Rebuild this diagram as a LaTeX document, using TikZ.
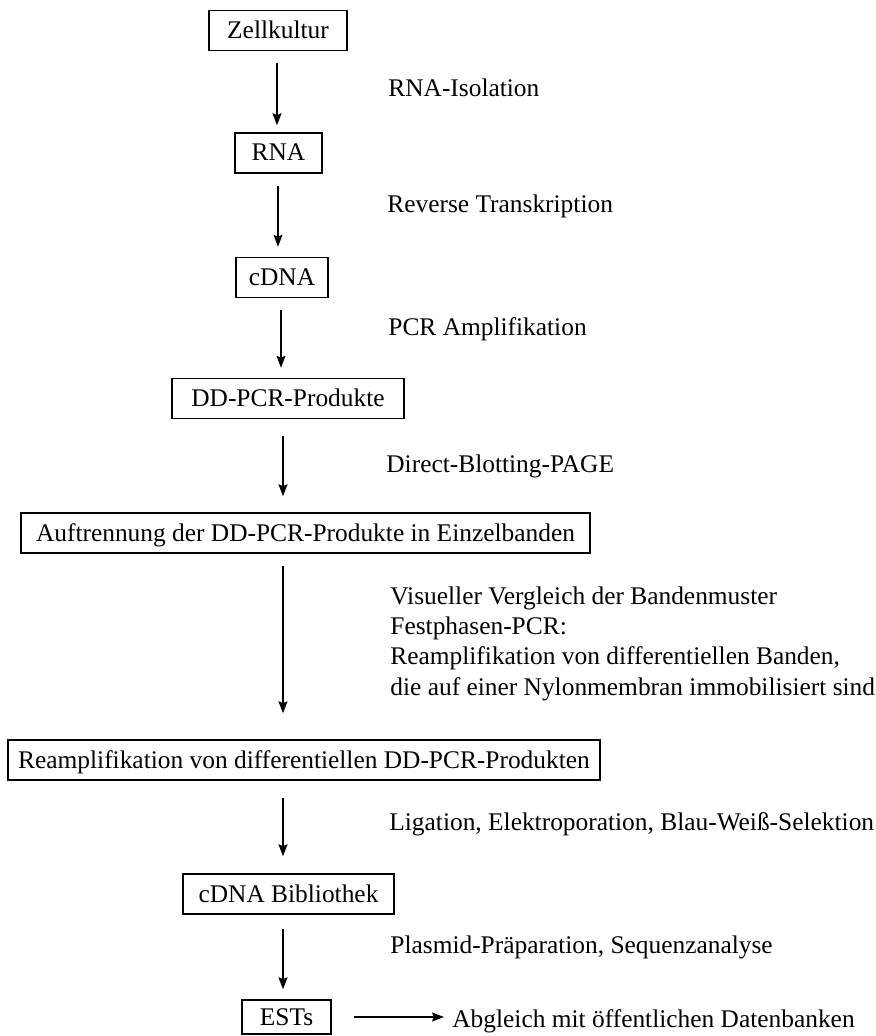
\documentclass[tikz,border=0pt]{standalone}
\usepackage{fontspec}
\setmainfont{Liberation Serif}
\usetikzlibrary{arrows.meta}
\tikzstyle{box}=[draw,line width=.75pt,inner sep=0pt,text height=9pt,text depth=1pt,
  minimum height=20pt]
\tikzstyle{lbl}=[anchor=base west,inner sep=0pt]
\tikzstyle{flow}=[-{Stealth[length=6pt,width=4.5pt,inset=1pt]},line width=.75pt,
  shorten <=6pt,shorten >=5pt]

\begin{document}
\begin{tikzpicture}[x=0.5pt,y=-0.5pt,font=\fontsize{12.7}{15.2}\selectfont]
  \useasboundingbox (0,0) rectangle (875,1036);

  \node[box, minimum width=69pt]    (zell)  at (278,30.5)  {Zellkultur};
  \node[box, minimum width=43.5pt]  (rna)   at (278.5,153) {RNA};
  \node[box, minimum width=46pt]    (cdna)  at (282,277.5) {cDNA};
  \node[box, minimum width=116pt]   (ddpcr) at (288,398.5) {DD-PCR-Produkte};
  \node[box, minimum width=284.5pt] (auf)   at (305.5,533) {Auftrennung der DD-PCR-Produkte in Einzelbanden};
  \node[box, minimum width=296pt]   (ream)  at (304,760)   {Reamplifikation von differentiellen DD-PCR-Produkten};
  \node[box, minimum width=105.5pt] (bib)   at (288.5,894) {cDNA Bibliothek};
  \node[box, minimum width=44.5pt, minimum height=17pt] (ests) at (286.5,1017) {ESTs};

  \node[lbl] (liso) at (388,97)  {RNA-Isolation};
  \node[lbl] (lrev) at (387,213) {Reverse Transkription};
  \node[lbl] (lpcr) at (388,336) {PCR Amplifikation};
  \node[lbl] (ldir) at (386,473) {Direct-Blotting-PAGE};
  \node[anchor=north west,inner sep=0pt,align=left] (lvis) at (390,586)
    {Visueller Vergleich der Bandenmuster\\Festphasen-PCR:\\
     Reamplifikation von differentiellen Banden,\\
     die auf einer Nylonmembran immobilisiert sind};
  \node[lbl] (llig) at (389,830) {Ligation, Elektroporation, Blau-Weiß-Selektion};
  \node[lbl] (lpla) at (390,953) {Plasmid-Präparation, Sequenzanalyse};
  \node[lbl] (labg) at (452,1027) {Abgleich mit öffentlichen Datenbanken};

  \coordinate (a1) at (277,0);
  \coordinate (a2) at (278,0);
  \coordinate (a3) at (281,0);
  \coordinate (a4) at (283,0);

  \draw[flow, shorten >=3.5pt] (zell.south -| a1) -- (rna.north -| a1);
  \draw[flow] (rna.south -| a2) -- (cdna.north -| a2);
  \draw[flow] (cdna.south -| a3) -- (ddpcr.north -| a3);
  \draw[flow, shorten <=8.5pt, shorten >=8pt] (ddpcr.south -| a4) -- (auf.north -| a4);
  \draw[flow, shorten >=13pt] (auf.south -| a4) -- (ream.north -| a4);
  \draw[flow, shorten <=8.5pt, shorten >=8.5pt] (ream.south -| a4) -- (bib.north -| a4);
  \draw[flow, shorten <=7pt] (bib.south -| a4) -- (ests.north -| a4);
  \draw[flow, shorten <=11pt, shorten >=4pt] (ests.east) -- (ests.east -| labg.west);
\end{tikzpicture}
\end{document}
